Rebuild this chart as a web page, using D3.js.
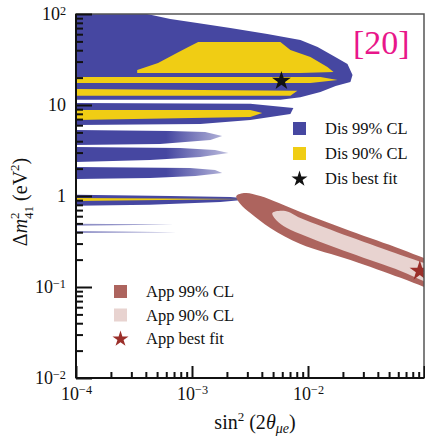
<!DOCTYPE html>
<html>
<head>
<meta charset="utf-8">
<script src="https://cdn.jsdelivr.net/npm/d3@7"></script>
<style>
body { margin: 0; background: #fff; }
svg { display: block; }
text { font-family: "Liberation Serif", "DejaVu Serif", serif; fill: #111; }
</style>
</head>
<body>
<svg id="chart" width="425" height="439"></svg>
<script>
// ---- data (sin^2 2theta_mue, dm^2_41 in eV^2) ----
var xTicks = [1e-4, 1e-3, 1e-2, 1e-1];
var xLabelTicks = [1e-4, 1e-3, 1e-2];
var yTicks = [1e-2, 1e-1, 1, 10, 100];

// disappearance 99% CL islands, outline points
var dis99 = [
	[[1e-4,100],[4.1e-4,100],[6.5e-4,88],[1.11e-3,79.6],[2.14e-3,70.2],[4.46e-3,60.3],[8.6e-3,51.8],
	 [1.21e-2,43.4],[1.66e-2,34.5],[2.19e-2,28.3],[2.42e-2,21.4],[2.32e-2,17.9],[1.73e-2,16.2],
	 [1.28e-2,13.9],[8.6e-3,12.2],[5.78e-3,11.4],[1e-4,11.4]],
	[[1e-4,10.5],[3.18e-3,10.3],[7.48e-3,9.27],[7.05e-3,7.96],[3.18e-3,6.84],[1.18e-3,6.18],[1e-4,6.03]],
	[[1e-4,1.03],[6.5e-4,1.0],[2.14e-3,0.975],[3.37e-3,0.927],[1.75e-3,0.86],[4.35e-4,0.80],[1e-4,0.78]]
];
// sparser islands between 1.5 and 5 eV^2 (scan points thin out to the right)
var dis99Sparse = [
	[[1e-4,5.3],[6.5e-4,5.18],[1.30e-3,5.05],[1.82e-3,4.56],[1.44e-3,4.12],[5.3e-4,3.72],[1e-4,3.63]],
	[[1e-4,3.45],[7.9e-4,3.37],[1.58e-3,3.20],[2.06e-3,2.97],[1.18e-3,2.68],[4.35e-4,2.49],[1e-4,2.37]],
	[[1e-4,2.08],[9.6e-4,2.03],[1.58e-3,1.93],[1.82e-3,1.79],[1.07e-3,1.66],[4.35e-4,1.58],[1e-4,1.54]]
];
// faint low-dm2 streaks
var dis99Faint = [
	[[1e-4,0.495],[6.9e-4,0.485],[1e-4,0.47]],
	[[1e-4,0.412],[7.4e-4,0.40],[1e-4,0.392]]
];
// disappearance 90% CL
var dis90 = [
	[[3.37e-4,24.3],[5.1e-4,29.0],[7.4e-4,37.3],[9.3e-4,43.4],[1.13e-3,49.2],[5.78e-3,49.2],[7.05e-3,40.2],
	 [1.05e-2,33.6],[1.47e-2,26.2],[1.66e-2,23.1],[8.6e-3,22.5],[3.37e-4,22.5]],
	[[1e-4,20.3],[1.28e-2,20.3],[1.8e-2,18.8],[1.05e-2,17.5],[1e-4,17.5]],
	[[1e-4,15.0],[8.1e-3,14.3],[7.05e-3,12.6],[1e-4,12.6]],
	[[1e-4,8.8],[3.18e-3,8.8],[4.03e-3,8.17],[3.18e-3,7.38],[1e-4,6.84]],
	[[1e-4,0.95],[3.18e-3,0.927],[1e-4,0.88]]
];
// appearance bands
var app99 = [[2.41e-3,1.0],[2.88e-3,1.08],[3.88e-3,1.0],[8.6e-3,0.667],[2.32e-2,0.412],[6.28e-2,0.262],
	[0.1,0.208],[0.13,0.184],[0.13,0.088],[0.1,0.1],[6.28e-2,0.126],[2.32e-2,0.198],[8.6e-3,0.297],
	[4.73e-3,0.445],[3.18e-3,0.65],[2.61e-3,0.817]];
var app90 = [[4.93e-3,0.65],[6.38e-3,0.684],[8.6e-3,0.573],[2.32e-2,0.354],[6.28e-2,0.225],[0.1,0.184],
	[0.13,0.166],[0.13,0.103],[0.1,0.116],[6.28e-2,0.150],[2.32e-2,0.236],[8.6e-3,0.382],[6.14e-3,0.468],[5.22e-3,0.558]];

var disBest = [5.9e-3, 18.4];
var appBest = [9.2e-2, 0.15];

var disLegend = ["Dis 99% CL", "Dis 90% CL", "Dis best fit"];
var appLegend = ["App 99% CL", "App 90% CL", "App best fit"];

var colors = {
	dis99: "#4647a1", dis90: "#f0cd14", disStar: "#111",
	app99: "#ad645e", app90: "#e8d3d0", appStar: "#9b2f2a"
};

// ---- layout ----
var svg = d3.select("#chart");
var plot = { left: 76, right: 424, top: 14, bottom: 378 };

var x = d3.scaleLog().domain([1e-4, 1e-1]).range([plot.left, plot.right]);
var y = d3.scaleLog().domain([1e-2, 1e2]).range([plot.bottom, plot.top]);

var defs = svg.append("defs");
defs.append("clipPath").attr("id", "plotClip")
	.append("rect")
		.attr("x", plot.left).attr("y", plot.top)
		.attr("width", plot.right - plot.left).attr("height", plot.bottom - plot.top);

// speckled tails: fade the sparse islands toward large mixing
var fade = defs.append("linearGradient").attr("id", "fadeBlue")
	.attr("gradientUnits", "userSpaceOnUse")
	.attr("x1", x(6e-4)).attr("x2", x(2.1e-3)).attr("y1", 0).attr("y2", 0);
fade.append("stop").attr("offset", 0).attr("stop-color", colors.dis99).attr("stop-opacity", 1);
fade.append("stop").attr("offset", 1).attr("stop-color", colors.dis99).attr("stop-opacity", 0.35);

var layer = svg.append("g").attr("clip-path", "url(#plotClip)");

var outline = d3.line()
	.x(function(d){ return x(d[0]); })
	.y(function(d){ return y(d[1]); })
	.curve(d3.curveLinearClosed);

var smooth = d3.line()
	.x(function(d){ return x(d[0]); })
	.y(function(d){ return y(d[1]); })
	.curve(d3.curveCatmullRomClosed.alpha(0.5));

layer.selectAll("path.dis99").data(dis99).enter()
	.append("path").attr("class", "dis99")
		.attr("d", outline).attr("fill", colors.dis99);

layer.selectAll("path.sparse").data(dis99Sparse).enter()
	.append("path").attr("class", "sparse")
		.attr("d", outline).attr("fill", "url(#fadeBlue)");

layer.selectAll("path.faint").data(dis99Faint).enter()
	.append("path").attr("class", "faint")
		.attr("d", outline).attr("fill", colors.dis99).attr("opacity", 0.6);

layer.selectAll("path.dis90").data(dis90).enter()
	.append("path").attr("class", "dis90")
		.attr("d", outline).attr("fill", colors.dis90);

layer.append("path").datum(app99).attr("d", smooth).attr("fill", colors.app99);
layer.append("path").datum(app90).attr("d", smooth).attr("fill", colors.app90);

var star = d3.symbol().type(d3.symbolStar);

layer.append("path")
	.attr("d", star.size(110)())
	.attr("transform", "translate(" + x(disBest[0]) + "," + y(disBest[1]) + ")")
	.attr("fill", colors.disStar);

layer.append("path")
	.attr("d", star.size(130)())
	.attr("transform", "translate(" + x(appBest[0]) + "," + y(appBest[1]) + ")")
	.attr("fill", colors.appStar);

// ---- axes ----
function powLabel(text, v) {
	var e = Math.round(Math.log10(v));
	text.text(null);
	if (e === 0) { text.text("1"); return; }
	if (e === 1) { text.text("10"); return; }
	text.append("tspan").text("10");
	text.append("tspan").attr("dy", "-0.45em").attr("font-size", "0.68em")
		.text(e < 0 ? "\u2212" + (-e) : String(e));
}

var minorX = [], minorY = [];
[1e-4, 1e-3, 1e-2].forEach(function(d){
	for (var k = 2; k < 10; k++) minorX.push(d * k);
});
[1e-2, 1e-1, 1, 10].forEach(function(d){
	for (var k = 2; k < 10; k++) minorY.push(d * k);
});

// frame: grey top/right, black left/bottom
svg.append("rect")
	.attr("x", plot.left).attr("y", plot.top)
	.attr("width", plot.right - plot.left).attr("height", plot.bottom - plot.top)
	.attr("fill", "none").attr("stroke", "#555").attr("stroke-width", 1.5);

var gx = svg.append("g").attr("transform", "translate(0," + plot.bottom + ")");
gx.call(d3.axisBottom(x).tickValues(minorX).tickSize(-6).tickFormat(""));
var gxMaj = svg.append("g").attr("transform", "translate(0," + plot.bottom + ")");
gxMaj.call(d3.axisBottom(x).tickValues(xTicks).tickSize(-12).tickFormat(""));
gx.selectAll("path.domain").remove();
gxMaj.selectAll("path.domain").remove();

var gxl = svg.append("g").attr("transform", "translate(0," + plot.bottom + ")");
gxl.call(d3.axisBottom(x).tickValues(xLabelTicks).tickSize(0).tickPadding(9));
gxl.selectAll(".tick line").remove();
gxl.select("path.domain").remove();
gxl.selectAll(".tick text").each(function(d){ powLabel(d3.select(this), d); })
	.attr("font-size", 18).attr("font-family", "Liberation Serif").attr("fill", "#111");

var gy = svg.append("g").attr("transform", "translate(" + plot.left + ",0)");
gy.call(d3.axisLeft(y).tickValues(minorY).tickSize(-7).tickFormat(""));
var gyMaj = svg.append("g").attr("transform", "translate(" + plot.left + ",0)");
gyMaj.call(d3.axisLeft(y).tickValues(yTicks).tickSize(-16).tickPadding(10));
gyMaj.selectAll(".tick text").each(function(d){ powLabel(d3.select(this), d); })
	.attr("font-size", 18).attr("font-family", "Liberation Serif").attr("fill", "#111");
gy.selectAll("path.domain").remove();
gyMaj.selectAll("path.domain").remove();

svg.selectAll(".tick line").attr("stroke", "#111").attr("stroke-width", 2);

svg.append("line").attr("x1", plot.left).attr("x2", plot.left)
	.attr("y1", plot.top).attr("y2", plot.bottom).attr("stroke", "#111").attr("stroke-width", 2);
svg.append("line").attr("x1", plot.left).attr("x2", plot.right)
	.attr("y1", plot.bottom).attr("y2", plot.bottom).attr("stroke", "#111").attr("stroke-width", 2);

// axis titles
var xt = svg.append("text").attr("x", (plot.left + plot.right) / 2 + 5).attr("y", 429)
	.attr("text-anchor", "middle").attr("font-size", 20);
xt.append("tspan").text("sin");
xt.append("tspan").attr("dy", -8).attr("font-size", 13).text("2");
xt.append("tspan").attr("dy", 8).text(" (2");
xt.append("tspan").attr("font-style", "italic").text("\u03b8");
xt.append("tspan").attr("dy", 4).attr("font-size", 14).attr("font-style", "italic").text("\u03bce");
xt.append("tspan").attr("dy", -4).text(")");

var yt = svg.append("text").attr("transform", "translate(27,202) rotate(-90)")
	.attr("text-anchor", "middle").attr("font-size", 20);
yt.append("tspan").text("\u0394");
yt.append("tspan").attr("font-style", "italic").text("m");
yt.append("tspan").attr("dy", -8).attr("font-size", 13).text("2");
yt.append("tspan").attr("dx", -6.5).attr("dy", 14).attr("font-size", 13).text("41");
yt.append("tspan").attr("dy", -6).text(" (eV");
yt.append("tspan").attr("dy", -8).attr("font-size", 13).text("2");
yt.append("tspan").attr("dy", 8).text(")");

// ---- legends ----
function legend(items, fills, starColor, x0, y0, step) {
	var g = svg.append("g").attr("transform", "translate(" + x0 + "," + y0 + ")");
	var rows = g.selectAll("g").data(items).enter().append("g")
		.attr("transform", function(d, i){ return "translate(0," + i * step + ")"; });
	rows.each(function(d, i){
		var r = d3.select(this);
		if (i < 2) {
			r.append("rect").attr("x", 0).attr("y", -7).attr("width", 13).attr("height", 13)
				.attr("fill", fills[i]);
		} else {
			r.append("path").attr("d", star.size(80)()).attr("transform", "translate(6.5,0)")
				.attr("fill", starColor);
		}
		r.append("text").attr("x", 32).attr("y", 5).attr("font-size", 16.5).text(d);
	});
}
legend(disLegend, [colors.dis99, colors.dis90], colors.disStar, 293, 129, 25);
legend(appLegend, [colors.app99, colors.app90], colors.appStar, 114, 292, 23.5);

svg.append("text").attr("x", 353).attr("y", 54)
	.attr("font-family", "Liberation Sans, Arial, sans-serif").attr("font-size", 34)
	.style("fill", "#e8168a").text("[20]");
</script>
</body>
</html>
